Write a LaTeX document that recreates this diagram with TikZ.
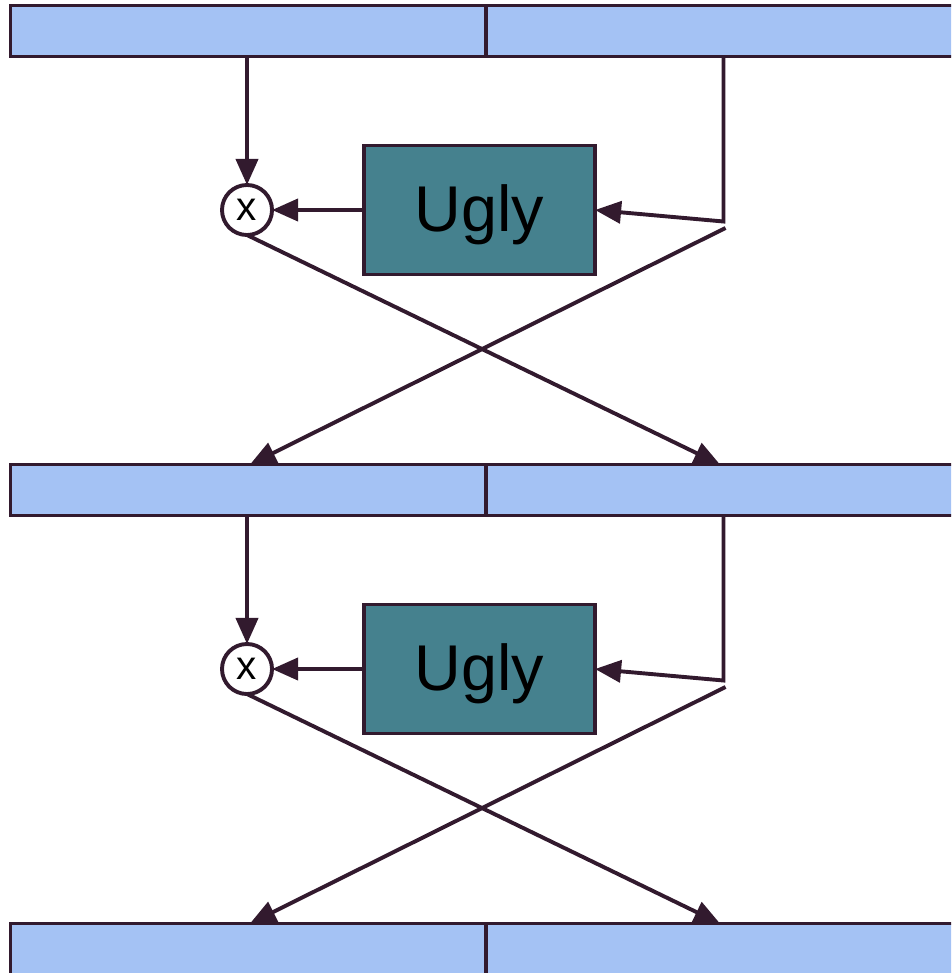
\documentclass[tikz,border=0pt]{standalone}
\usepackage{fontspec}
\setmainfont{Liberation Sans}
\usetikzlibrary{arrows.meta}
\definecolor{ink}{RGB}{50,26,46}
\definecolor{barblue}{RGB}{164,194,244}
\definecolor{tealbox}{RGB}{69,129,142}
\begin{document}
\begin{tikzpicture}[x=0.01cm,y=-0.01cm, line width=0.039cm,
 bar/.style={draw=ink, fill=barblue, rectangle, minimum height=0.51cm, inner sep=0pt, outer sep=0pt, anchor=north west},
 ugly/.style={draw=ink, fill=tealbox, rectangle, minimum width=2.31cm, minimum height=1.29cm, inner sep=0pt, outer sep=0pt, font=\fontsize{18.4}{22}\selectfont, text=black},
 mult/.style={draw=ink, fill=white, circle, minimum size=0.5cm, inner sep=0pt, outer sep=0pt, font=\fontsize{11.5}{13}\selectfont, text=black},
 flow/.style={draw=ink, -{Triangle[length=0.26cm,width=0.22cm]}}]
\useasboundingbox (0,0) rectangle (951,973);
\clip (0,0) rectangle (951,973);
\foreach \i/\o in {1/0,2/459,3/918}{
  \node[bar, minimum width=4.755cm] (bL\i) at (10.5,5.5+\o) {};
  \node[bar, minimum width=4.8cm] (bR\i) at (486,5.5+\o) {};
}
\foreach \i/\o in {1/0,2/459}{
  \node[mult] (m\i) at (247,210+\o) {x};
  \node[ugly] (u\i) at (479.5,210+\o) {\raisebox{-0.217cm}[0pt][0pt]{Ugly}};
  \coordinate (k\i) at (723.5,221.5+\o);
  \coordinate (s\i) at (725.5,228+\o);
  \coordinate (tl\i) at (250,464.5+\o);
  \coordinate (tr\i) at (720,464.5+\o);
  \draw[flow] (bL\i.south -| m\i.north) -- (m\i.north);
  \draw[flow] (u\i.west) -- (m\i.east);
  \draw[flow] (bR\i.south -| k\i) -- (k\i) -- (u\i.east);
  \draw[flow] (m\i.south) -- (tr\i);
  \draw[flow] (s\i) -- (tl\i);
}
\end{tikzpicture}
\end{document}
